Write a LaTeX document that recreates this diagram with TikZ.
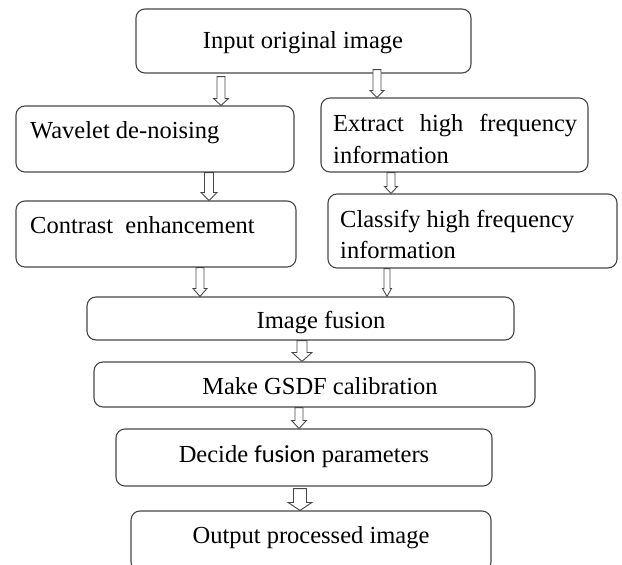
\documentclass[tikz,border=0pt]{standalone}
\usepackage{fontspec}
\setmainfont{LiberationSerif-Regular.ttf}
\newfontfamily\carlito{Carlito}
\usetikzlibrary{calc}
\tikzset{
  box/.style={draw=black!72, line width=1.1pt, rounded corners=9pt, inner sep=0pt, fill=white},
  txt/.style={inner sep=0pt, font=\fontsize{24.5}{33}\selectfont, text=black},
  harrow/.style={draw=black!72, line width=0.9pt, fill=white, line join=miter},
}
% #1 from node, #2 to node, #3 x, #4 shaft half width, #5 head half width, #6 head length, #7 start shift (up into box, pt)
\newcommand\hollowarrow[7]{%
  \draw[harrow] let \p1=(#1.south), \p2=(#2.north) in
    (#3pt-#4pt,\y1+#7pt) -- (#3pt+#4pt,\y1+#7pt) -- (#3pt+#4pt,\y2+#6pt)
    -- (#3pt+#5pt,\y2+#6pt) -- (#3pt,\y2) -- (#3pt-#5pt,\y2+#6pt)
    -- (#3pt-#4pt,\y2+#6pt) -- cycle;}
\begin{document}
\begin{tikzpicture}[x=1pt,y=-1pt]
\useasboundingbox (0,0) rectangle (622,565);
\clip (0,0) rectangle (622,565);
\fill[white] (0,0) rectangle (622,565);
% boxes
\node[box, minimum width=335pt, minimum height=64pt] (inp) at (303.5,41) {};
\node[box, minimum width=278pt, minimum height=66pt] (wav) at (155,139) {};
\node[box, minimum width=267pt, minimum height=74pt] (ext) at (454.5,135) {};
\node[box, minimum width=280pt, minimum height=66pt] (con) at (156,234) {};
\node[box, minimum width=289pt, minimum height=74pt] (cla) at (472.5,231) {};
\node[box, minimum width=427pt, minimum height=43pt] (fus) at (300.5,318.5) {};
\node[box, minimum width=441pt, minimum height=45pt] (gsd) at (314.5,384.5) {};
\node[box, minimum width=376pt, minimum height=57pt] (dec) at (304,457.5) {};
\node[box, minimum width=360pt, minimum height=60pt] (out) at (311,541) {};
% texts
\node[txt, anchor=base] (tinp) at (303,48) {Input original image};
\node[txt, anchor=base west] (twav) at (30,138) {Wavelet de-noising};
\node[txt, anchor=base west] (text1) at (333,131) {\makebox[244pt][s]{Extract high frequency}};
\node[txt, anchor=base west] (text2) at (333,163) {information};
\node[txt, anchor=base west] (tcon) at (30,233) {Contrast\ \ enhancement};
\node[txt, anchor=base west] (tcla1) at (340,227) {Classify high frequency};
\node[txt, anchor=base west] (tcla2) at (340,258) {information};
\node[txt, anchor=base] (tfus) at (321,328) {Image fusion};
\node[txt, anchor=base] (tgsd) at (320,394) {Make GSDF calibration};
\node[txt, anchor=base] (tdec) at (304,462) {Decide {\carlito fusion} parameters};
\node[txt, anchor=base] (tout) at (311,543) {Output processed image};
% arrows
\hollowarrow{inp}{wav}{221}{4}{7.5}{7}{-3}
\hollowarrow{inp}{ext}{377}{4}{7}{7}{4}
\hollowarrow{wav}{con}{209}{4.5}{8}{8}{0}
\hollowarrow{ext}{cla}{391}{4}{6.5}{7}{0}
\hollowarrow{con}{fus}{200}{4}{7}{8}{0}
\hollowarrow{cla}{fus}{387}{3}{4.5}{8}{0}
\hollowarrow{fus}{gsd}{302}{5}{10}{9}{0}
\hollowarrow{gsd}{dec}{299}{4}{7.5}{8}{0}
\hollowarrow{dec}{out}{300}{6.5}{12}{8}{-2}
\end{tikzpicture}
\end{document}
